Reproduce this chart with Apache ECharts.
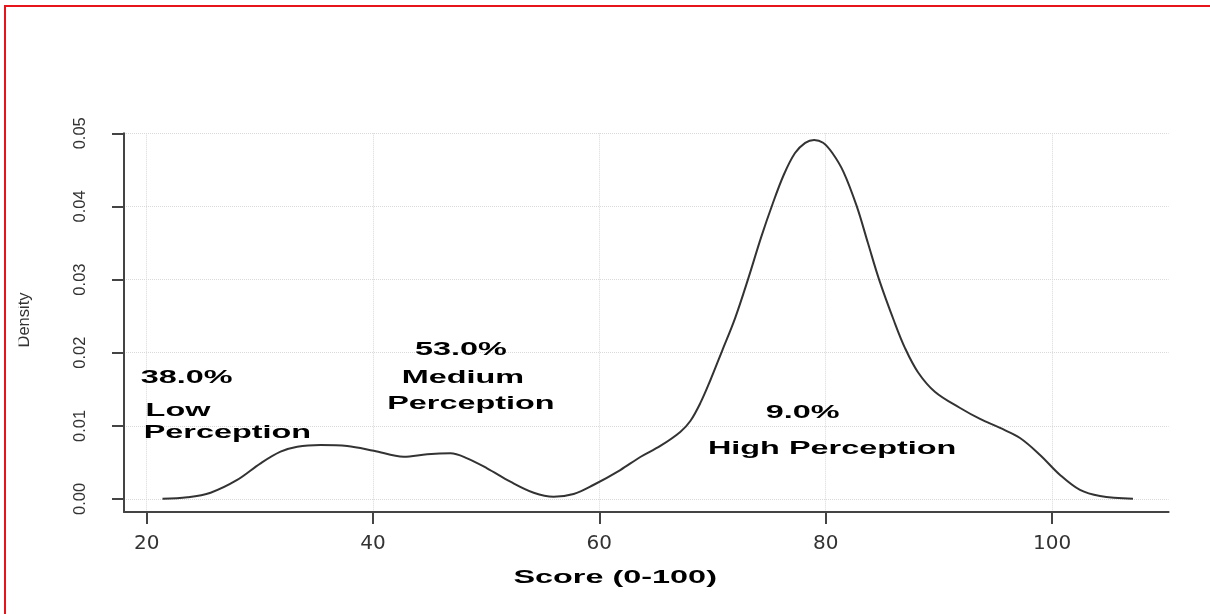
<!DOCTYPE html>
<html><head><meta charset="utf-8">
<script src="https://cdn.jsdelivr.net/npm/echarts@6/dist/echarts.min.js"></script>
<style>html,body{margin:0;padding:0;background:#fff}#c{width:1210px;height:614px}</style>
</head><body><div id="c"></div>
<script>
// Density curve
const scoreValues = [21.4, 23.6, 25.65, 28.0, 30.07, 31.83, 33.31, 35.36, 37.72, 40.07, 42.72, 44.79, 46.84, 48.32, 50.08, 52.14, 54.2, 55.96, 57.73, 59.47, 61.85, 63.62, 65.39, 67.15, 68.04, 68.92, 69.8, 70.86, 71.99, 73.15, 74.3, 75.3, 76.29, 77.29, 78.19, 78.98, 79.77, 80.59, 81.58, 82.75, 83.74, 84.72, 86.05, 87.02, 88.17, 89.67, 91.88, 93.64, 95.41, 97.17, 98.94, 100.71, 102.47, 104.24, 107.15];
const densityValues = [0.00002, 0.00023, 0.00086, 0.0026, 0.00488, 0.00647, 0.00715, 0.00738, 0.00725, 0.0066, 0.00578, 0.00611, 0.00624, 0.00556, 0.0042, 0.00237, 0.00086, 0.00031, 0.00068, 0.00191, 0.00396, 0.00574, 0.00725, 0.00916, 0.01066, 0.01310, 0.01620, 0.02030, 0.02470, 0.0301, 0.0358, 0.0403, 0.0443, 0.0473, 0.0487, 0.0491, 0.0487, 0.0473, 0.0447, 0.0400, 0.03496, 0.03000, 0.02430, 0.02060, 0.01730, 0.01463, 0.01244, 0.01094, 0.00971, 0.00834, 0.00602, 0.00328, 0.00123, 0.00041, 0.00002];
const xTickValues = [20, 40, 60, 80, 100];
const yTickValues = [0, 0.01, 0.02, 0.03, 0.04, 0.05];
const annotationTexts = ['38.0%', 'Low', 'Perception', '53.0%', 'Medium', 'Perception', '9.0%', 'High Perception'];
const annotationX = [19.47, 19.91, 19.74, 47.77, 47.95, 48.65, 77.97, 80.57];
const annotationY = [0.01648, 0.01196, 0.00896, 0.0203, 0.01648, 0.01299, 0.01169, 0.0068];
const annotationAlign = ['left', 'left', 'left', 'center', 'center', 'center', 'center', 'center'];
const xAxisTitle = 'Score (0-100)';
const yAxisTitle = 'Density';
const xTitleAt = 61.4;

const chart = echarts.init(document.getElementById('c'), null, {renderer: 'canvas'});
const axisColor = '#444';
const gridLine = {show: true, lineStyle: {color: '#d9d9d9', type: 'dotted', width: 1}};

chart.setOption({
  animation: false,
  backgroundColor: '#fff',
  grid: {left: 124, right: 41.4, top: 133.3, bottom: 102, containLabel: false},
  xAxis: {
    type: 'value', min: 18, max: 110.3,
    axisLine: {show: true, onZero: false, lineStyle: {color: axisColor, width: 2}},
    axisTick: {show: true, customValues: xTickValues, length: 12, lineStyle: {color: axisColor, width: 2}},
    axisLabel: {customValues: xTickValues, margin: 22, color: '#333', fontFamily: 'DejaVu Sans', fontSize: 20},
    splitLine: gridLine
  },
  yAxis: {
    type: 'value', min: -0.00178, max: 0.05,
    axisLine: {show: true, onZero: false, lineStyle: {color: axisColor, width: 2}},
    axisTick: {show: true, customValues: yTickValues, length: 12, lineStyle: {color: axisColor, width: 2}},
    axisLabel: {customValues: yTickValues, rotate: 90, margin: 35, color: '#333', fontFamily: 'Liberation Sans', fontSize: 16.5,
      formatter: v => v.toFixed(2)},
    splitLine: gridLine
  },
  series: [{
    type: 'line',
    data: scoreValues.map((x, i) => [x, densityValues[i]]),
    smooth: 0.35,
    showSymbol: false,
    lineStyle: {color: '#333', width: 2},
    z: 5
  }]
});

const g = [];
g.push({type: 'rect', silent: true, z: 200, shape: {x: 5, y: 6, width: 1400, height: 800}, style: {fill: 'none', stroke: '#e8141c', lineWidth: 2}});
annotationTexts.forEach((t, i) => {
  const p = chart.convertToPixel({gridIndex: 0}, [annotationX[i], annotationY[i]]);
  g.push({type: 'text', x: p[0], y: p[1], scaleX: 1.8, z: 50,
    style: {text: t, font: 'bold 18px "Liberation Sans"', fill: '#000', align: annotationAlign[i], verticalAlign: 'middle'}});
});
const tp = chart.convertToPixel({gridIndex: 0}, [xTitleAt, 0]);
g.push({type: 'text', x: tp[0], y: 578, scaleX: 1.8, z: 50,
  style: {text: xAxisTitle, font: 'bold 18px "Liberation Sans"', fill: '#000', align: 'center', verticalAlign: 'middle'}});
g.push({type: 'text', x: 24.5, y: 320, rotation: Math.PI / 2, z: 50,
  style: {text: yAxisTitle, font: '16.5px "Liberation Sans"', fill: '#333', align: 'center', verticalAlign: 'middle'}});
g.push({type: 'rect', silent: true, z: 100, shape: {x: 7, y: 280, width: 11.5, height: 80}, style: {fill: '#fff'}});
chart.setOption({graphic: g});
</script></body></html>
